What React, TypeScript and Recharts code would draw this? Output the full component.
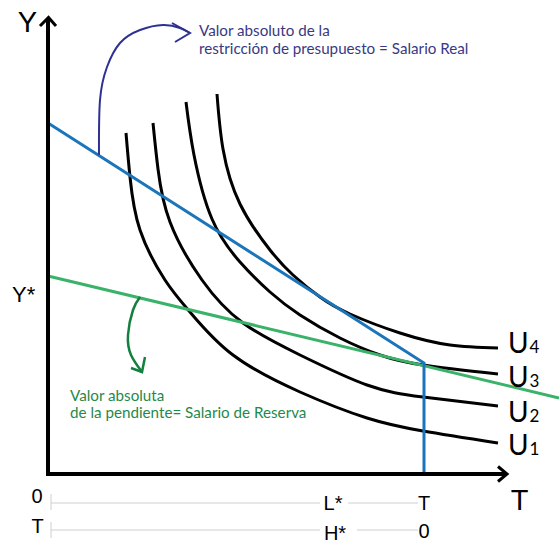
import React from 'react';
import { ComposedChart, Line, Scatter, XAxis, YAxis } from 'recharts';

// Values are in chart units (origin at the corner of the axes)
const axesPath = [{ x: 0, y: 45.6 }, { x: 0, y: 0 }, { x: 45.9, y: 0 }];
const yArrowHead = [{ x: -0.8, y: 44.8 }, { x: 0.05, y: 45.65 }, { x: 0.8, y: 44.8 }];
const xArrowHead = [{ x: 45.0, y: 0.75 }, { x: 45.9, y: 0 }, { x: 45.0, y: -0.75 }];

const budgetLine = [{ x: 0, y: 35.1 }, { x: 37.6, y: 11.1 }, { x: 37.6, y: 0 }];
const reserveLine = [{ x: 0, y: 19.8 }, { x: 51.1, y: 7.6 }];

const U1 = [
  { x: 7.8, y: 34.1 }, { x: 8.2, y: 29.7 }, { x: 9.2, y: 24.4 },
  { x: 11.7, y: 19.4 }, { x: 14.2, y: 16.2 }, { x: 18.5, y: 11.9 }, { x: 25.2, y: 8.2 },
  { x: 31.9, y: 5.6 }, { x: 37.5, y: 4.3 }, { x: 45.0, y: 3.1 },
];
const U2 = [
  { x: 10.5, y: 35.1 }, { x: 11.0, y: 30.5 }, { x: 12.2, y: 25.2 },
  { x: 15.4, y: 19.4 }, { x: 19.5, y: 15.1 }, { x: 25.2, y: 11.9 }, { x: 31.9, y: 8.9 }, { x: 37.5, y: 7.7 },
  { x: 45.0, y: 6.8 },
];
const U3 = [
  { x: 13.8, y: 37.2 }, { x: 14.6, y: 31.9 }, { x: 16.4, y: 25.5 }, { x: 19.2, y: 21.2 },
  { x: 22.2, y: 18.2 }, { x: 25.2, y: 15.9 }, { x: 29.2, y: 13.6 }, { x: 33.2, y: 11.9 }, { x: 37.5, y: 10.9 },
  { x: 45.0, y: 10.0 },
];
const U4 = [
  { x: 16.9, y: 38.0 }, { x: 17.5, y: 32.5 }, { x: 19.2, y: 27.0 },
  { x: 22.2, y: 22.4 }, { x: 24.5, y: 19.9 }, { x: 27.2, y: 17.7 }, { x: 30.2, y: 16.0 }, { x: 35.2, y: 14.1 },
  { x: 40.2, y: 12.9 }, { x: 45.0, y: 12.6 },
];

const blueArrow = [
  { x: 5.1, y: 31.9 }, { x: 5.2, y: 37.4 }, { x: 5.9, y: 40.7 }, { x: 7.2, y: 43.1 }, { x: 9.2, y: 44.4 },
  { x: 11.5, y: 44.9 }, { x: 13.2, y: 44.6 }, { x: 14.2, y: 44.1 },
];
const blueArrowHead = [{ x: 12.4, y: 45.1 }, { x: 14.2, y: 44.1 }, { x: 12.7, y: 43.2 }];
const greenArrow = [
  { x: 9.2, y: 17.7 }, { x: 8.5, y: 16.4 }, { x: 8.0, y: 13.9 }, { x: 8.3, y: 11.9 }, { x: 9.4, y: 10.2 },
];
const greenArrowHead = [{ x: 8.3, y: 10.6 }, { x: 9.4, y: 10.2 }, { x: 9.7, y: 11.7 }];

const scaleRow1 = [{ x: 0.3, y: -2.9 }, { x: 27.2, y: -2.9 }];
const scaleRow1b = [{ x: 30.0, y: -2.9 }, { x: 37.0, y: -2.9 }];
const scaleTick1 = [{ x: 0.3, y: -2.0 }, { x: 0.3, y: -3.6 }];
const scaleRow2 = [{ x: 0.3, y: -5.6 }, { x: 27.2, y: -5.6 }];
const scaleRow2b = [{ x: 30.9, y: -5.6 }, { x: 37.0, y: -5.6 }];
const scaleTick2 = [{ x: 0.3, y: -4.8 }, { x: 0.3, y: -6.4 }];

const axisLetters = [{ x: -2.05, y: 44.2, text: 'Y' }, { x: 47.15, y: -3.6, text: 'T' }];
const yStarLabel = [{ x: -3.6, y: 17.2, text: 'Y*' }];
const scaleLabels = [
  { x: -1.1, y: -2.9, text: '0' }, { x: 28.5, y: -3.6, text: 'L*' }, { x: 37.6, y: -3.6, text: 'T' },
  { x: -1.05, y: -5.9, text: 'T' }, { x: 28.7, y: -6.6, text: 'H*' }, { x: 37.6, y: -6.4, text: '0' },
];
const uLabels = [
  { x: 46.0, y: 12.1, main: 'U', sub: '4' }, { x: 46.0, y: 8.7, main: 'U', sub: '3' },
  { x: 46.0, y: 5.2, main: 'U', sub: '2' }, { x: 46.0, y: 1.9, main: 'U', sub: '1' },
];
const blueNote = [
  { x: 15.1, y: 43.85, text: 'Valor absoluto de la' },
  { x: 15.1, y: 42.0, text: 'restricción de presupuesto = Salario Real' },
];
const greenNote = [
  { x: 2.2, y: 7.3, text: 'Valor absoluta' },
  { x: 2.2, y: 5.6, text: 'de la pendiente= Salario de Reserva' },
];

const makeText = (size: number, color: string, family: string, anchor: string) => (p: any) => (
  <text x={p.cx} y={p.cy} fontSize={size} fill={color} fontFamily={family} textAnchor={anchor}>
    {p.payload.text}
  </text>
);

const ULabelShape = (p: any) => (
  <text x={p.cx} y={p.cy} fontFamily="Lato, 'Open Sans', sans-serif" fill="#000" fontSize={28}>
    <tspan>{p.payload.main}</tspan>
    <tspan fontSize={17} dx={1}>{p.payload.sub}</tspan>
  </text>
);

const ARIAL = "'Liberation Sans', Arial, sans-serif";
const MYRIAD = "Lato, 'Open Sans', sans-serif";

const BLUE = '#1b75bb';
const GREEN = '#3ab26a';
const NAVY = '#2e3192';
const NAVY_TEXT = '#3a3882';
const DKGREEN = '#14803f';
const DKGREEN_TEXT = '#1f8a4a';

const seg = (data: any[], color: string, width: number, type: any = 'linear', key?: string) => (
  <Line
    key={key}
    data={data}
    dataKey="y"
    type={type}
    stroke={color}
    strokeWidth={width}
    dot={false}
    activeDot={false}
    isAnimationActive={false}
    legendType="none"
    strokeLinejoin="miter"
  />
);

export default function App() {
  return (
    <div style={{ position: 'absolute', left: 0, top: 0, background: '#fff' }}>
      <ComposedChart width={559} height={545} margin={{ top: 0, right: 0, bottom: 0, left: 0 }}>
        <XAxis type="number" dataKey="x" domain={[-4.8, 51.1]} allowDataOverflow hide />
        <YAxis type="number" dataKey="y" domain={[-7.1, 47.4]} allowDataOverflow hide />

        {seg(scaleRow1, '#cfcfcf', 1, 'linear', 'r1')}
        {seg(scaleRow1b, '#cfcfcf', 1, 'linear', 'r1b')}
        {seg(scaleTick1, '#cfcfcf', 1, 'linear', 't1')}
        {seg(scaleRow2, '#cfcfcf', 1, 'linear', 'r2')}
        {seg(scaleRow2b, '#cfcfcf', 1, 'linear', 'r2b')}
        {seg(scaleTick2, '#cfcfcf', 1, 'linear', 't2')}

        {seg(U1, '#000', 3, 'natural', 'u1')}
        {seg(U2, '#000', 3, 'natural', 'u2')}
        {seg(U3, '#000', 3, 'natural', 'u3')}
        {seg(U4, '#000', 3, 'natural', 'u4')}

        {seg(reserveLine, GREEN, 3, 'linear', 'green')}
        {seg(budgetLine, BLUE, 3, 'linear', 'blue')}

        {seg(blueArrow, NAVY, 2, 'natural', 'ba')}
        {seg(blueArrowHead, NAVY, 2, 'linear', 'bah')}
        {seg(greenArrow, DKGREEN, 2.5, 'natural', 'ga')}
        {seg(greenArrowHead, DKGREEN, 2.5, 'linear', 'gah')}

        {seg(axesPath, '#000', 4, 'linear', 'axes')}
        {seg(yArrowHead, '#000', 3, 'linear', 'yah')}
        {seg(xArrowHead, '#000', 3, 'linear', 'xah')}

        <Scatter data={axisLetters} shape={makeText(29, '#000', ARIAL, 'middle')} isAnimationActive={false} legendType="none" />
        <Scatter data={yStarLabel} shape={makeText(22, '#000', ARIAL, 'start')} isAnimationActive={false} legendType="none" />
        <Scatter data={scaleLabels} shape={makeText(20, '#000', ARIAL, 'middle')} isAnimationActive={false} legendType="none" />
        <Scatter data={uLabels} shape={ULabelShape} isAnimationActive={false} legendType="none" />
        <Scatter data={blueNote} shape={makeText(15.2, NAVY_TEXT, MYRIAD, 'start')} isAnimationActive={false} legendType="none" />
        <Scatter data={greenNote} shape={makeText(15.2, DKGREEN_TEXT, MYRIAD, 'start')} isAnimationActive={false} legendType="none" />
      </ComposedChart>
    </div>
  );
}
